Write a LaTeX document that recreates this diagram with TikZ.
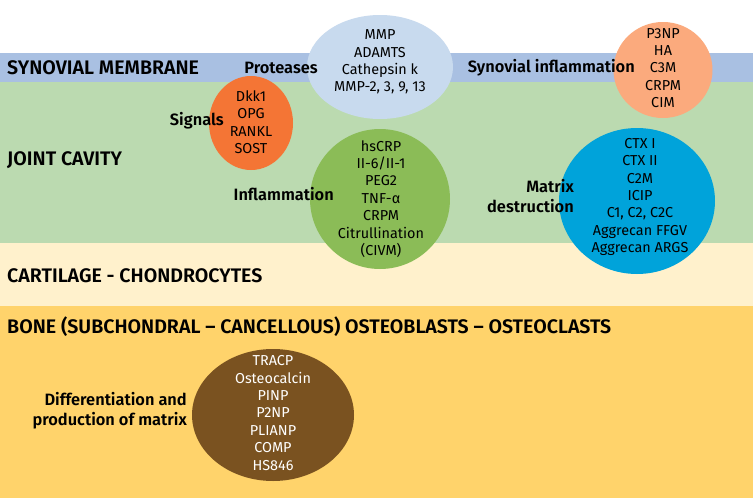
\documentclass[tikz,border=0pt]{standalone}
\usepackage{fontspec}
\setmainfont{Fira Sans}[BoldFont=Fira Sans SemiBold]
\usepackage{tikz}
\usetikzlibrary{shapes.geometric}
\definecolor{membrane}{RGB}{169,192,226}
\definecolor{cavity}{RGB}{187,218,176}
\definecolor{cartilage}{RGB}{255,241,204}
\definecolor{bone}{RGB}{255,211,107}
\definecolor{protcol}{RGB}{200,218,238}
\definecolor{sigcol}{RGB}{244,117,53}
\definecolor{synocol}{RGB}{251,170,125}
\definecolor{inflcol}{RGB}{139,188,87}
\definecolor{matrcol}{RGB}{0,163,218}
\definecolor{diffcol}{RGB}{122,82,32}

\begin{document}
\begin{tikzpicture}[x=1pt, y=-1pt,
	blob/.style={ellipse, inner sep=0pt},
	marker/.style={align=center, inner sep=0pt, font=\fontsize{14.4}{17.4}\selectfont},
	layer/.style={anchor=west, inner sep=0pt, font=\bfseries\fontsize{19.6}{22}\selectfont},
	group/.style={align=right, inner sep=0pt, font=\bfseries\fontsize{16.4}{20}\selectfont}]
		%%%%% START %%%%%
		\useasboundingbox (0, 0) rectangle (753, 498);
		
		\fill[white] (0, 0) rectangle (753, 53);
		\fill[membrane] (0, 53) rectangle (753, 82);
		\fill[cavity] (0, 82) rectangle (753, 243);
		\fill[cartilage] (0, 243) rectangle (753, 306);
		\fill[bone] (0, 306) rectangle (753, 498);
		
		\node[layer] (synovium) at (7, 68) {SYNOVIAL MEMBRANE};
		\node[layer] (cavity) at (7, 160) {JOINT CAVITY};
		\node[layer] (cart) at (7, 276) {CARTILAGE - CHONDROCYTES};
		\node[layer] (bone) at (7, 327) {BONE (SUBCHONDRAL -- CANCELLOUS) OSTEOBLASTS -- OSTEOCLASTS};
		
		% proteases
		\node[blob, fill=protcol, minimum width=146, minimum height=104] (prot) at (380, 67) {};
		\node[marker] (protlist) at (380, 62) {MMP\\ADAMTS\\Cathepsin k\\MMP-2, 3, 9, 13};
		\node[group, anchor=east] (protlab) at (318, 68) {Proteases};
		
		% synovial inflammation
		\node[blob, fill=synocol, minimum width=99, minimum height=96] (syno) at (663, 70) {};
		\node[marker] (synolist) at (663, 68) {P3NP\\HA\\C3M\\CRPM\\CIM};
		\node[group, anchor=east] (synolab) at (635, 68) {Synovial inflammation};
		
		% signals
		\node[blob, fill=sigcol, minimum width=84, minimum height=94] (sig) at (251, 123) {};
		\node[marker] (siglist) at (251, 122) {Dkk1\\OPG\\RANKL\\SOST};
		\node[group, anchor=east] (siglab) at (224, 121) {Signals};
		
		% inflammation
		\node[blob, fill=inflcol, minimum width=140, minimum height=140] (infl) at (380, 199) {};
		\node[marker] (infllist) at (381, 199) {hsCRP\\II-6/II-1\\PEG2\\TNF-α\\CRPM\\Citrullination\\(CIVM)};
		\node[group, anchor=east] (infllab) at (334, 194) {Inflammation};
		
		% matrix destruction
		\node[blob, fill=matrcol, minimum width=156, minimum height=146] (matr) at (637, 201) {};
		\node[marker] (matrlist) at (640, 197) {CTX I\\CTX II\\C2M\\ICIP\\C1, C2, C2C\\Aggrecan FFGV\\Aggrecan ARGS};
		\node[group, anchor=east] (matrlab) at (574, 196) {Matrix\\destruction};
		
		% bone turnover
		\node[blob, fill=diffcol, minimum width=162, minimum height=132] (diff) at (273, 415) {};
		\node[marker, text=white] (difflist) at (273, 413) {TRACP\\Osteocalcin\\PINP\\P2NP\\PLIANP\\COMP\\HS846};
		\node[group, anchor=east] (difflab) at (187, 411) {Differentiation and\\production of matrix};
		%%%%% END %%%%%
\end{tikzpicture}
\end{document}
